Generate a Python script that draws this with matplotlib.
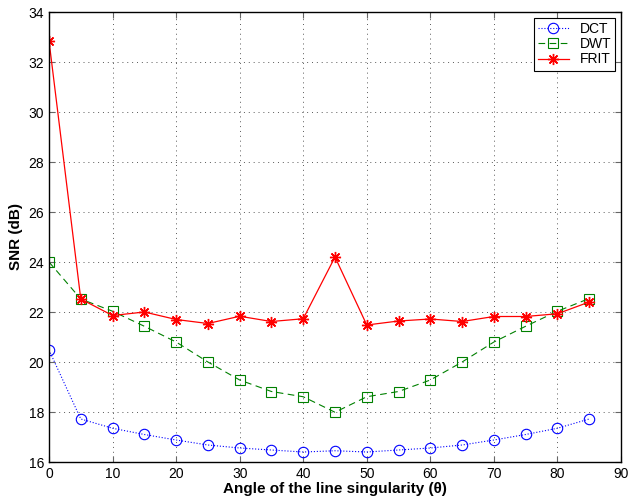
import matplotlib
matplotlib.use("Agg")
import matplotlib.pyplot as plt

angles = [0, 5, 10, 15, 20, 25, 30, 35, 40, 45, 50, 55, 60, 65, 70, 75, 80, 85]
dct = [20.48, 17.72, 17.35, 17.1, 16.88, 16.68, 16.56, 16.48, 16.40, 16.45,
       16.40, 16.48, 16.56, 16.68, 16.88, 17.1, 17.35, 17.72]
dwt = [24.0, 22.52, 22.03, 21.43, 20.8, 20.0, 19.28, 18.82, 18.61, 17.99,
       18.61, 18.82, 19.28, 20.0, 20.8, 21.43, 22.03, 22.54]
frit = [32.85, 22.52, 21.86, 22.0, 21.7, 21.54, 21.83, 21.62, 21.73, 24.2,
        21.48, 21.64, 21.72, 21.62, 21.82, 21.82, 21.93, 22.4]

plt.rcParams["font.family"] = ["Liberation Sans", "DejaVu Sans"]

fig = plt.figure(figsize=(6.39, 4.99), dpi=100)
ax = fig.add_axes([49 / 639, 1 - 462 / 499, 572 / 639, 450 / 499])

ax.plot(angles, dct, color="blue", linestyle=":", marker="o", markersize=7.5,
        markerfacecolor="none", markeredgewidth=0.8, linewidth=0.8, label="DCT")
ax.plot(angles, dwt, color="green", linestyle="--", dashes=(6, 4), marker="s", markersize=6.5,
        markerfacecolor="none", markeredgewidth=0.8, linewidth=0.8, label="DWT")
ax.plot(angles, frit, color="red", linestyle="-", marker=(8, 2, 0), markersize=8,
        markeredgewidth=1.0, linewidth=0.9, label="FRIT")

ax.set_xlim(0, 90)
ax.set_ylim(16, 34)
ax.set_xticks(range(0, 91, 10))
ax.set_yticks(range(16, 35, 2))
ax.grid(True, color="0.35", linestyle=(0, (1, 4)), linewidth=0.7)
ax.tick_params(direction="in", top=True, right=True, labelsize=10, length=4,
               color="0.4")
for s in ax.spines.values():
    s.set_linewidth(1.0)

ax.set_xlabel("Angle of the line singularity (\u03b8)", fontsize=11, fontweight="bold", labelpad=1)
ax.set_ylabel("SNR (dB)", fontsize=11, fontweight="bold", labelpad=4)

leg = ax.legend(loc="upper right", fontsize=10, fancybox=False, framealpha=1,
                edgecolor="black", borderpad=0.3, labelspacing=0.1, handlelength=2.2,
                borderaxespad=0.4)
leg.get_frame().set_linewidth(0.8)

fig.savefig("out.png", dpi=100)
